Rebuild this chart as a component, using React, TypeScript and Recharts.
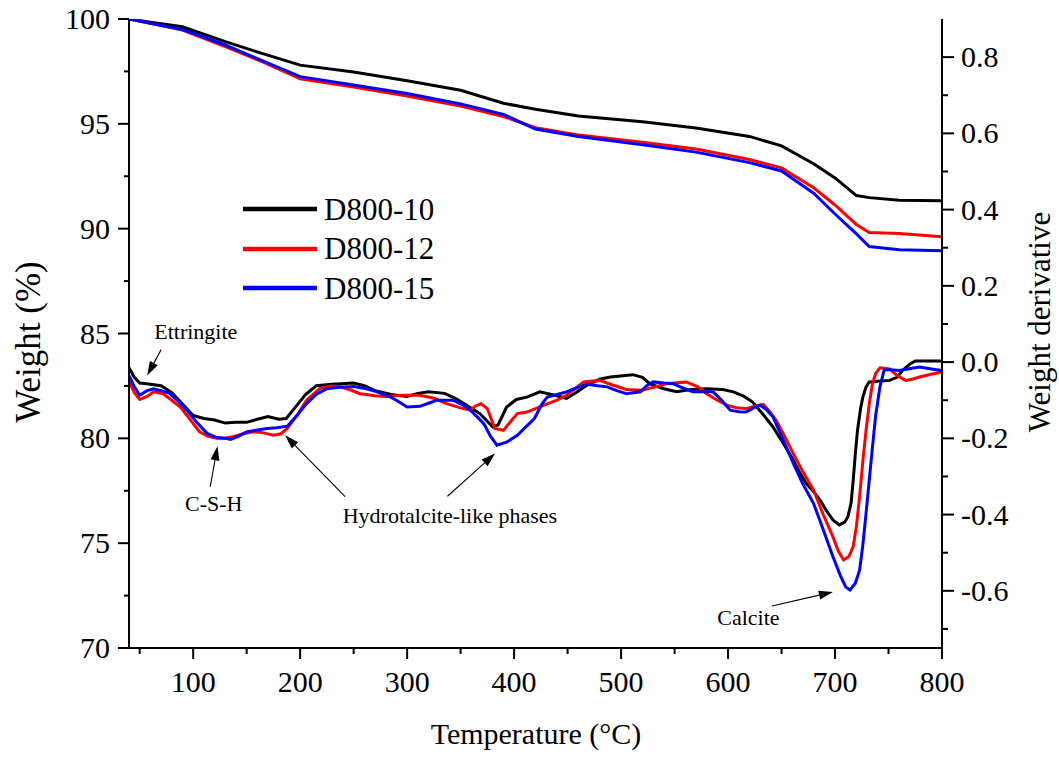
import React from 'react';
import { ComposedChart, Line, XAxis, YAxis, Legend, ReferenceLine, ReferenceDot } from 'recharts';

const FONT = '"Liberation Serif", "Times New Roman", serif';

// ---------- TG (weight %) ----------
const tgTemps = [40, 60, 90, 130, 165, 200, 250, 300, 350, 390, 420, 460, 520, 570, 620, 650, 680, 700, 720, 732, 760, 800];
const tg10 = [100, 99.85, 99.63, 98.92, 98.35, 97.8, 97.47, 97.05, 96.6, 95.98, 95.7, 95.37, 95.1, 94.8, 94.4, 93.95, 93.1, 92.42, 91.58, 91.48, 91.35, 91.33];
const tg12 = [100, 99.8, 99.47, 98.68, 97.95, 97.15, 96.75, 96.33, 95.85, 95.35, 94.82, 94.47, 94.12, 93.8, 93.3, 92.9, 91.95, 91.13, 90.2, 89.82, 89.77, 89.62];
const tg15 = [100, 99.8, 99.5, 98.76, 98.0, 97.25, 96.85, 96.45, 95.95, 95.45, 94.75, 94.4, 94.0, 93.65, 93.15, 92.75, 91.69, 90.7, 89.75, 89.15, 89.0, 88.95];

// ---------- DTG (weight derivative) ----------
const dtg10Temps = [40, 45, 50, 60, 70, 80, 90, 100, 110, 120, 130, 140, 150, 160, 170, 180, 187, 195, 205, 215, 230, 250, 260, 270, 285, 300, 310, 320, 335, 345, 355, 368, 380, 385, 393, 402, 412, 424, 435, 449, 458, 468, 480, 490, 511, 520, 527, 540, 552, 565, 580, 595, 605, 615, 623, 632, 642, 652, 661, 667, 673, 680, 686, 692, 698, 704, 709, 712, 715, 717, 719, 721, 724, 726, 729, 732, 740, 751, 758, 763, 770, 775, 790, 800];
const dtg10 = [-0.015, -0.04, -0.055, -0.058, -0.062, -0.08, -0.11, -0.14, -0.148, -0.152, -0.16, -0.158, -0.158, -0.15, -0.143, -0.15, -0.148, -0.12, -0.085, -0.062, -0.058, -0.055, -0.062, -0.075, -0.085, -0.09, -0.082, -0.078, -0.082, -0.095, -0.112, -0.135, -0.17, -0.165, -0.118, -0.098, -0.092, -0.078, -0.085, -0.095, -0.08, -0.061, -0.045, -0.039, -0.033, -0.04, -0.057, -0.07, -0.078, -0.072, -0.07, -0.072, -0.078, -0.09, -0.105, -0.135, -0.17, -0.215, -0.257, -0.29, -0.318, -0.34, -0.362, -0.39, -0.414, -0.427, -0.42, -0.406, -0.37, -0.31, -0.24, -0.179, -0.12, -0.092, -0.065, -0.052, -0.05, -0.048, -0.04, -0.022, -0.005, 0.003, 0.003, 0.003];

const dtg12Temps = [40, 45, 50, 57, 63, 72, 80, 88, 97, 106, 114, 122, 130, 138, 147, 156, 165, 175, 182, 188, 197, 206, 218, 228, 237, 246, 256, 270, 281, 295, 312, 325, 337, 350, 359, 364, 369, 375, 382, 390, 397, 403, 412, 428, 440, 449, 457, 465, 480, 492, 505, 520, 532, 542, 561, 572, 580, 590, 599, 608, 617, 626, 633, 639, 645, 653, 661, 670, 680, 689, 698, 703, 708, 713, 717, 720, 723, 726, 729, 732, 735, 738, 742, 751, 758, 766, 772, 779, 790, 800];
const dtg12 = [-0.05, -0.08, -0.098, -0.09, -0.078, -0.083, -0.1, -0.118, -0.15, -0.183, -0.195, -0.2, -0.2, -0.195, -0.188, -0.183, -0.185, -0.192, -0.188, -0.174, -0.14, -0.1, -0.07, -0.063, -0.064, -0.072, -0.083, -0.088, -0.09, -0.087, -0.087, -0.095, -0.109, -0.12, -0.126, -0.115, -0.109, -0.122, -0.174, -0.179, -0.155, -0.135, -0.131, -0.113, -0.1, -0.087, -0.07, -0.052, -0.048, -0.06, -0.072, -0.074, -0.065, -0.057, -0.052, -0.065, -0.083, -0.1, -0.113, -0.12, -0.122, -0.115, -0.111, -0.13, -0.153, -0.195, -0.24, -0.288, -0.336, -0.4, -0.458, -0.495, -0.519, -0.51, -0.484, -0.43, -0.353, -0.26, -0.179, -0.11, -0.057, -0.03, -0.015, -0.018, -0.035, -0.048, -0.045, -0.039, -0.032, -0.026];

const dtg15Temps = [40, 45, 50, 57, 63, 70, 78, 87, 94, 104, 113, 122, 130, 135, 142, 150, 160, 169, 178, 188, 197, 206, 215, 225, 237, 250, 262, 272, 281, 290, 300, 312, 320, 328, 343, 352, 359, 366, 372, 378, 384, 393, 403, 411, 419, 426, 431, 440, 449, 458, 468, 478, 487, 496, 505, 518, 524, 530, 540, 549, 558, 567, 586, 594, 602, 610, 617, 624, 630, 636, 642, 651, 661, 670, 680, 689, 698, 705, 710, 714, 719, 723, 726, 729, 732, 735, 738, 742, 746, 752, 760, 768, 779, 790, 800];
const dtg15 = [-0.035, -0.065, -0.087, -0.075, -0.07, -0.075, -0.082, -0.105, -0.126, -0.16, -0.187, -0.198, -0.2, -0.203, -0.195, -0.183, -0.178, -0.174, -0.172, -0.168, -0.14, -0.109, -0.085, -0.07, -0.066, -0.064, -0.07, -0.078, -0.087, -0.1, -0.118, -0.116, -0.108, -0.1, -0.1, -0.112, -0.126, -0.145, -0.163, -0.195, -0.218, -0.21, -0.192, -0.17, -0.148, -0.11, -0.092, -0.085, -0.078, -0.068, -0.058, -0.062, -0.065, -0.075, -0.083, -0.078, -0.062, -0.052, -0.055, -0.057, -0.068, -0.078, -0.078, -0.1, -0.126, -0.13, -0.131, -0.12, -0.113, -0.125, -0.144, -0.2, -0.266, -0.32, -0.371, -0.44, -0.51, -0.56, -0.59, -0.598, -0.58, -0.545, -0.48, -0.397, -0.31, -0.223, -0.14, -0.065, -0.02, -0.02, -0.022, -0.018, -0.013, -0.018, -0.022];

// ---------- axes ----------
const xTicks = [50, 100, 150, 200, 250, 300, 350, 400, 450, 500, 550, 600, 650, 700, 750, 800];
const weightTicks = [70, 72.5, 75, 77.5, 80, 82.5, 85, 87.5, 90, 92.5, 95, 97.5, 100];
const derivTicks = [-0.7, -0.6, -0.5, -0.4, -0.3, -0.2, -0.1, 0, 0.1, 0.2, 0.3, 0.4, 0.5, 0.6, 0.7, 0.8];

// ---------- legend ----------
const seriesNames = ['D800-10', 'D800-12', 'D800-15'];
const seriesColors = ['#000000', '#ff0000', '#0000ff'];

// ---------- annotations (in data units: temperature, derivative) ----------
const labelTexts = ['Ettringite', 'C-S-H', 'Hydrotalcite-like phases', 'Calcite'];
const labelT = [63.6, 119.2, 340, 619];
const labelD = [0.061, -0.39, -0.4215, -0.689];
const labelAnchor = ['start', 'middle', 'middle', 'middle'];

const arrowFromT = [70.1, 115.9, 242, 337.7, 641];
const arrowFromD = [0.033, -0.327, -0.353, -0.352, -0.64];
const arrowToT = [57, 122.7, 186, 382.2, 698];
const arrowToD = [-0.035, -0.221, -0.192, -0.24, -0.603];

const toData = (temps: number[], vals: number[]) => temps.map((t, i) => ({ t, v: vals[i] }));

const tgSeries = [toData(tgTemps, tg10), toData(tgTemps, tg12), toData(tgTemps, tg15)];
const dtgSeries = [toData(dtg10Temps, dtg10), toData(dtg12Temps, dtg12), toData(dtg15Temps, dtg15)];

const XTick = (props: any) => {
  const { x, y, payload } = props;
  const v = payload.value;
  const major = v % 100 === 0;
  return (
    <g>
      <line x1={x} y1={y} x2={x} y2={y + (major ? 11 : 6)} stroke="#000" strokeWidth={2} />
      {major && (
        <text x={x} y={y + 44} textAnchor="middle" fontSize={30} fontFamily={FONT} fill="#000">
          {v}
        </text>
      )}
    </g>
  );
};

const LeftTick = (props: any) => {
  const { x, y, payload } = props;
  const v = payload.value;
  const major = v % 5 === 0;
  return (
    <g>
      <line x1={x - (major ? 11 : 5)} y1={y} x2={x} y2={y} stroke="#000" strokeWidth={2} />
      {major && (
        <text x={x - 19} y={y + 10} textAnchor="end" fontSize={30} fontFamily={FONT} fill="#000">
          {v}
        </text>
      )}
    </g>
  );
};

const RightTick = (props: any) => {
  const { x, y, payload } = props;
  const v = payload.value;
  const major = Math.abs(Math.round(v * 10)) % 2 === 0;
  return (
    <g>
      <line x1={x} y1={y} x2={x + (major ? 12 : 6)} y2={y} stroke="#000" strokeWidth={2} />
      {major && (
        <text x={x + 19} y={y + 10} textAnchor="start" fontSize={30} fontFamily={FONT} fill="#000">
          {v.toFixed(1)}
        </text>
      )}
    </g>
  );
};

const ArrowShape = (p: any) => {
  const { x1, y1, x2, y2 } = p;
  const dx = x2 - x1;
  const dy = y2 - y1;
  const len = Math.hypot(dx, dy) || 1;
  const ux = dx / len;
  const uy = dy / len;
  const hl = 14;
  const hw = 4.5;
  const bx = x2 - ux * hl;
  const by = y2 - uy * hl;
  const pts = `${x2},${y2} ${bx - uy * hw},${by + ux * hw} ${bx + uy * hw},${by - ux * hw}`;
  return (
    <g>
      <line x1={x1} y1={y1} x2={bx} y2={by} stroke="#000" strokeWidth={1.1} />
      <polygon points={pts} fill="#000" />
    </g>
  );
};

const LegendContent = () => (
  <div style={{ fontFamily: FONT }}>
    {seriesNames.map((n, i) => (
      <div key={n} style={{ display: 'flex', alignItems: 'center', height: 39.5 }}>
        <svg width={74} height={6} style={{ marginRight: 7 }}>
          <line x1={0} y1={3} x2={74} y2={3} stroke={seriesColors[i]} strokeWidth={4.5} />
        </svg>
        <span style={{ fontSize: 31, lineHeight: 1, color: '#000', fontFamily: FONT }}>{n}</span>
      </div>
    ))}
  </div>
);

export default function App() {
  return (
    <div style={{ position: 'absolute', left: 0, top: 0, width: 1059, height: 758, background: '#fff', fontFamily: FONT }}>
      <ComposedChart width={1059} height={758} margin={{ top: 19, right: 0, bottom: 0, left: 0 }}>
        <XAxis
          dataKey="t"
          type="number"
          domain={[40, 800]}
          ticks={xTicks}
          interval={0}
          tickSize={0}
          tickMargin={0}
          tickLine={false}
          tick={<XTick />}
          height={110}
          axisLine={{ stroke: '#000', strokeWidth: 2 }}
          allowDataOverflow
        />
        <XAxis
          xAxisId="top"
          orientation="top"
          type="number"
          domain={[40, 800]}
          height={0}
          tick={false}
          tickLine={false}
          axisLine={{ stroke: '#000', strokeWidth: 2 }}
        />
        <YAxis
          yAxisId="left"
          type="number"
          domain={[70, 100]}
          ticks={weightTicks}
          interval={0}
          tickSize={0}
          tickMargin={0}
          tickLine={false}
          tick={<LeftTick />}
          width={129}
          axisLine={{ stroke: '#000', strokeWidth: 2 }}
          allowDataOverflow
          label={() => (
            <text x={40} y={342} transform="rotate(-90, 40, 342)" textAnchor="middle" fontSize={35} fontFamily={FONT} fill="#000">
              Weight (%)
            </text>
          )}
        />
        <YAxis
          yAxisId="right"
          orientation="right"
          type="number"
          domain={[-0.75, 0.9]}
          ticks={derivTicks}
          interval={0}
          tickSize={0}
          tickMargin={0}
          tickLine={false}
          tick={<RightTick />}
          width={117}
          axisLine={{ stroke: '#000', strokeWidth: 2 }}
          allowDataOverflow
          label={() => (
            <text x={1050} y={322} transform="rotate(-90, 1050, 322)" textAnchor="middle" fontSize={31} fontFamily={FONT} fill="#000">
              Weight derivative
            </text>
          )}
        />
        <text x={536} y={744} textAnchor="middle" fontSize={30} fontFamily={FONT} fill="#000">
          Temperature (°C)
        </text>

        {tgSeries.map((d, i) => (
          <Line
            key={'tg' + i}
            data={d}
            dataKey="v"
            yAxisId="left"
            type="linear"
            stroke={seriesColors[i]}
            strokeWidth={3}
            dot={false}
            activeDot={false}
            isAnimationActive={false}
            name={seriesNames[i]}
            legendType="line"
          />
        ))}
        {dtgSeries.map((d, i) => (
          <Line
            key={'dtg' + i}
            data={d}
            dataKey="v"
            yAxisId="right"
            type="linear"
            stroke={seriesColors[i]}
            strokeWidth={3}
            dot={false}
            activeDot={false}
            isAnimationActive={false}
            name={seriesNames[i] + ' DTG'}
            legendType="none"
          />
        ))}

        {arrowFromT.map((ft, i) => (
          <ReferenceLine
            key={'ar' + i}
            yAxisId="right"
            segment={[
              { x: ft, y: arrowFromD[i] },
              { x: arrowToT[i], y: arrowToD[i] },
            ]}
            shape={ArrowShape}
            ifOverflow="visible"
          />
        ))}
        {labelTexts.map((txt, i) => (
          <ReferenceDot
            key={'lb' + i}
            yAxisId="right"
            x={labelT[i]}
            y={labelD[i]}
            r={0}
            ifOverflow="visible"
            shape={(p: any) => (
              <text x={p.cx} y={p.cy} textAnchor={labelAnchor[i] as any} fontSize={22} fontFamily={FONT} fill="#000">
                {txt}
              </text>
            )}
          />
        ))}

        <Legend
          layout="vertical"
          align="center"
          verticalAlign="middle"
          content={<LegendContent />}
          wrapperStyle={{ left: 243, top: 189.5, width: 260 }}
        />
      </ComposedChart>
    </div>
  );
}
